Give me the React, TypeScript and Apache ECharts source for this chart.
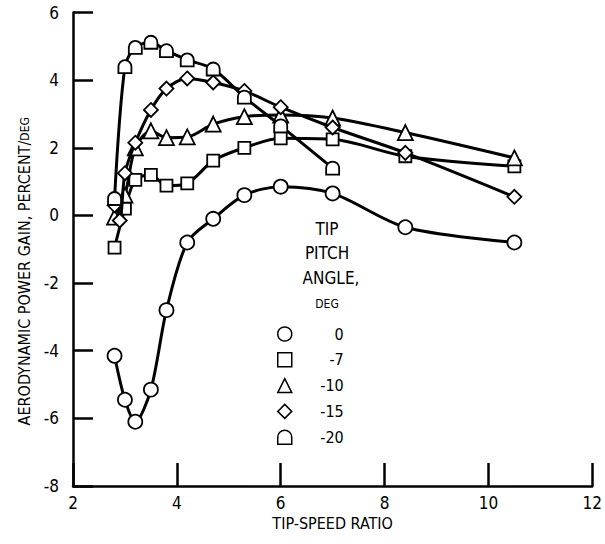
import React, { useEffect, useRef } from "react";
import * as echarts from "echarts";

// Tip-speed ratio (x) and aerodynamic power gain (y) for each tip pitch angle
const pitchNames = ["0", "-7", "-10", "-15", "-20"];

const x0 = [2.8, 3.0, 3.2, 3.5, 3.8, 4.2, 4.7, 5.3, 6.0, 7.0, 8.4, 10.5];
const y0 = [-4.15, -5.45, -6.1, -5.15, -2.8, -0.8, -0.1, 0.6, 0.85, 0.65, -0.35, -0.8];

const x7 = [2.8, 3.0, 3.2, 3.5, 3.8, 4.2, 4.7, 5.3, 6.0, 7.0, 8.4, 10.5];
const y7 = [-0.95, 0.2, 1.05, 1.2, 0.88, 0.95, 1.62, 2.0, 2.28, 2.25, 1.75, 1.45];

const x10 = [2.8, 3.0, 3.2, 3.5, 3.8, 4.2, 4.7, 5.3, 6.0, 7.0, 8.4, 10.5];
const y10 = [-0.05, 0.6, 2.0, 2.5, 2.3, 2.32, 2.7, 2.92, 2.97, 2.88, 2.45, 1.7];

const x15 = [2.8, 2.9, 3.0, 3.2, 3.5, 3.8, 4.2, 4.7, 5.3, 6.0, 7.0, 8.4, 10.5];
const y15 = [0.3, -0.15, 1.25, 2.15, 3.12, 3.75, 4.05, 3.93, 3.68, 3.2, 2.6, 1.85, 0.55];

const x20 = [2.8, 3.0, 3.2, 3.5, 3.8, 4.2, 4.7, 5.3, 6.0, 7.0];
const y20 = [0.5, 4.4, 4.97, 5.12, 4.87, 4.6, 4.33, 3.5, 2.65, 1.4];

const xTicks = [2, 4, 6, 8, 10, 12];
const yTicks = [-8, -6, -4, -2, 0, 2, 4, 6];

const FONT = '"DejaVu Sans Condensed", "Liberation Sans Narrow", "Noto Sans", sans-serif';
const DOME = "path://M0,12 L0,6 C0,2.7 2.7,0 6,0 C9.3,0 12,2.7 12,6 L12,12 Z";

const symbols = ["circle", "rect", "triangle", "diamond", DOME];
const symbolSizes = [14, 12, 15, 14, 13];
const xs = [x0, x7, x10, x15, x20];
const ys = [y0, y7, y10, y15, y20];

export default function App() {
  const ref = useRef<HTMLDivElement>(null);
  useEffect(() => {
    document.body.style.margin = "0";
    if (!ref.current) return;
    const chart = echarts.init(ref.current, null, { renderer: "svg" });
    const series = pitchNames.map((name, i) => ({
      name,
      type: "line",
      smooth: 0.3,
      data: xs[i].map((x, j) => [x, ys[i][j]]),
      symbol: symbols[i],
      symbolSize: symbolSizes[i],
      showAllSymbol: true,
      lineStyle: { color: "#000", width: 3 },
      itemStyle: { color: "#fff", borderColor: "#000", borderWidth: 1.8 },
      z: 2 + i,
    }));
    const txt = (text: string, x: number, y: number, size: number) => ({
      type: "text",
      x,
      y,
      style: { text, font: `${size}px ${FONT}`, fill: "#000", textAlign: "center", textVerticalAlign: "middle" },
    });
    chart.setOption({
      animation: false,
      backgroundColor: "#fff",
      grid: { left: 73, right: 10, top: 12.5, bottom: 58 },
      xAxis: {
        type: "value",
        min: xTicks[0],
        max: xTicks[xTicks.length - 1],
        interval: 2,
        name: "TIP-SPEED RATIO",
        nameLocation: "middle",
        nameGap: 28,
        nameTextStyle: { fontFamily: FONT, fontSize: 16, color: "#000" },
        axisLine: { onZero: false, lineStyle: { color: "#000", width: 2.5 } },
        axisTick: { inside: true, length: 23, lineStyle: { color: "#000", width: 2.5 } },
        axisLabel: { fontFamily: FONT, fontSize: 17, color: "#000", margin: 8 },
        splitLine: { show: false },
      },
      yAxis: {
        type: "value",
        min: yTicks[0],
        max: yTicks[yTicks.length - 1],
        interval: 2,
        name: "{a|AERODYNAMIC POWER GAIN, PERCENT/}{b|DEG}",
        nameLocation: "middle",
        nameGap: 30,
        nameTextStyle: {
          fontFamily: FONT,
          color: "#000",
          padding: [0, 44, 0, 0],
          rich: {
            a: { fontFamily: FONT, fontSize: 16, color: "#000" },
            b: { fontFamily: FONT, fontSize: 12, color: "#000" },
          },
        },
        axisLine: { onZero: false, lineStyle: { color: "#000", width: 2.5 } },
        axisTick: { inside: true, length: 20, lineStyle: { color: "#000", width: 2.5 } },
        axisLabel: { fontFamily: FONT, fontSize: 17, color: "#000", margin: 14 },
        splitLine: { show: false },
      },
      legend: {
        orient: "vertical",
        left: 277,
        top: 326,
        padding: 0,
        itemWidth: 14,
        itemHeight: 14,
        itemGap: 9.8,
        data: pitchNames.map((name, i) => ({ name, icon: symbols[i] })),
        itemStyle: { color: "#fff", borderColor: "#000", borderWidth: 1.5 },
        formatter: (name: string) => `{v|${name}}`,
        textStyle: {
          fontFamily: FONT,
          fontSize: 16,
          color: "#000",
          rich: { v: { width: 47, lineHeight: 14, align: "right", fontFamily: FONT, fontSize: 16, color: "#000" } },
        },
        selectedMode: false,
      },
      graphic: [
        txt("TIP", 327, 229, 17),
        txt("PITCH", 327, 253, 17),
        txt("ANGLE,", 331, 278, 17),
        txt("DEG", 327, 304, 12),
      ],
      series,
    });
    return () => chart.dispose();
  }, []);
  return <div ref={ref} style={{ width: 605, height: 544 }} />;
}
